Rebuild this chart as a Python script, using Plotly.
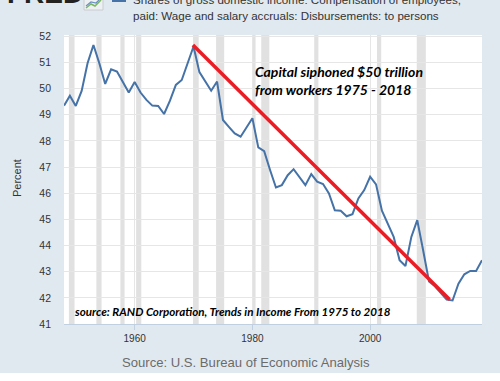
import plotly.graph_objects as go

# ---- data ----
years = list(range(1948, 2020))
wage_share = [49.35, 49.73, 49.34, 49.91, 50.97, 51.67, 50.97, 50.18, 50.74, 50.65,
              50.25, 49.85, 50.25, 49.85, 49.57, 49.35, 49.34, 49.03, 49.54, 50.14,
              50.33, 50.97, 51.61, 50.63, 50.25, 49.92, 50.27, 48.80, 48.54, 48.29,
              48.16, 48.54, 48.87, 47.75, 47.61, 46.89, 46.22, 46.31, 46.69, 46.92,
              46.63, 46.31, 46.73, 46.44, 46.35, 45.99, 45.35, 45.33, 45.12, 45.20,
              45.80, 46.12, 46.63, 46.34, 45.33, 44.84, 44.33, 43.44, 43.22, 44.33,
              44.97, 43.82, 42.63, 42.44, 42.18, 41.93, 41.90, 42.54, 42.90, 43.03,
              43.03, 43.44]
trend_years = [1969.9, 2013.5]
trend_values = [51.67, 41.94]
recession_starts = [1948.83, 1953.5, 1957.58, 1960.25, 1969.92, 1973.83, 1980.0, 1981.5, 1990.5, 2001.17, 2007.92]
recession_ends = [1949.79, 1954.38, 1958.29, 1961.13, 1970.88, 1975.21, 1980.54, 1982.88, 1991.21, 2001.88, 2009.46]
x_tick_vals = [1960, 1980, 2000]
x_tick_text = ["1960", "1980", "2000"]
y_tick_vals = [41, 42, 43, 44, 45, 46, 47, 48, 49, 50, 51, 52]

# ---- layout geometry (pixels) ----
W, H = 500, 381
L, R, T, B = 64, 482, 35, 324

def px(xp):
    return (xp - L) / (R - L)

def py(yp):
    return (B - yp) / (B - T)

FONT = "Liberation Sans, Arial, sans-serif"

fig = go.Figure()

fig.add_trace(go.Scatter(x=years, y=wage_share, mode="lines",
                         line=dict(color="#4572a7", width=2), hoverinfo="skip",
                         showlegend=False))
fig.add_trace(go.Scatter(x=trend_years, y=trend_values, mode="lines",
                         line=dict(color="#ec1c24", width=3.5), hoverinfo="skip",
                         showlegend=False))

shapes = []
for s, e in zip(recession_starts, recession_ends):
    shapes.append(dict(type="rect", xref="x", yref="paper", x0=s, x1=e, y0=0, y1=1,
                       fillcolor="#e1e1e1", line=dict(width=0), layer="below"))
# legend marker
shapes.append(dict(type="line", xref="paper", yref="paper", x0=px(112), x1=px(126),
                   y0=py(1), y1=py(1), line=dict(color="#4572a7", width=2)))
# FRED icon
shapes.append(dict(type="rect", xref="paper", yref="paper", x0=px(84), x1=px(103),
                   y0=py(10), y1=py(-6), fillcolor="#eef1f3", line=dict(color="#c8ccd0", width=1)))
shapes.append(dict(type="path", xref="paper", yref="paper",
                   path=f"M {px(86)} {py(8)} L {px(91)} {py(4)} L {px(95)} {py(6)} L {px(101)} {py(0)}",
                   line=dict(color="#7bb661", width=1.5)))
shapes.append(dict(type="path", xref="paper", yref="paper",
                   path=f"M {px(86)} {py(6)} L {px(91)} {py(2)} L {px(96)} {py(3)} L {px(101)} {py(-2)}",
                   line=dict(color="#6a8fc0", width=1.2)))
# white strip at bottom
shapes.append(dict(type="rect", xref="paper", yref="paper", x0=px(0), x1=px(W),
                   y0=py(373), y1=py(H + 2), fillcolor="#ffffff", line=dict(width=0)))

annotations = [
    dict(text="<b>FRED</b>", xref="paper", yref="paper", x=px(5), y=py(11),
         xanchor="left", yanchor="bottom", showarrow=False,
         font=dict(family=FONT, size=28, color="#222222")),
    dict(text="Shares of gross domestic income: Compensation of employees,", xref="paper", yref="paper",
         x=px(131), y=py(0), xanchor="left", yanchor="middle", showarrow=False,
         font=dict(family=FONT, size=11.6, color="#333333")),
    dict(text="paid: Wage and salary accruals: Disbursements: to persons", xref="paper", yref="paper",
         x=px(131), y=py(15), xanchor="left", yanchor="middle", showarrow=False,
         font=dict(family=FONT, size=11.6, color="#333333")),
    dict(text="<b><i>Capital siphoned $50 trillion</i></b>", xref="paper", yref="paper",
         x=px(253), y=py(71.5), xanchor="left", yanchor="middle", showarrow=False,
         font=dict(family="Lato, sans-serif", size=14, color="#000000")),
    dict(text="<b><i>from workers 1975 - 2018</i></b>", xref="paper", yref="paper",
         x=px(253), y=py(89), xanchor="left", yanchor="middle", showarrow=False,
         font=dict(family="Lato, sans-serif", size=14, color="#000000")),
    dict(text="<b><i>source: RAND Corporation, Trends in Income From 1975 to 2018</i></b>",
         xref="paper", yref="paper", x=px(72), y=py(311.5), xanchor="left", yanchor="middle",
         showarrow=False, font=dict(family="Lato, sans-serif", size=11.6, color="#000000")),
    dict(text="Source: U.S. Bureau of Economic Analysis", xref="paper", yref="paper",
         x=px(246), y=py(362), xanchor="center", yanchor="middle", showarrow=False,
         font=dict(family=FONT, size=13.1, color="#6b6b6b")),
    dict(text="Percent", xref="paper", yref="paper", x=px(17.5), y=py(178.5),
         xanchor="center", yanchor="middle", textangle=-90, showarrow=False,
         font=dict(family=FONT, size=11, color="#333333")),
]

fig.update_layout(
    width=W, height=H,
    margin=dict(l=L, r=W - R, t=T, b=H - B, pad=0),
    paper_bgcolor="#e1e9f0", plot_bgcolor="#ffffff",
    shapes=shapes, annotations=annotations, showlegend=False,
    xaxis=dict(range=[1948, 2019], tickvals=x_tick_vals, ticktext=x_tick_text,
               showgrid=True, gridcolor="#e6e6e6", gridwidth=1, zeroline=False,
               showline=True, linecolor="#c0d0e0", linewidth=1,
               ticks="outside", ticklen=5, tickcolor="#c0d0e0",
               tickfont=dict(family=FONT, size=10, color="#333333")),
    yaxis=dict(range=[41, 52.05], tickvals=y_tick_vals,
               showgrid=True, gridcolor="#e6e6e6", gridwidth=1, zeroline=False,
               showline=False, ticks="", ticklabelstandoff=12,
               tickfont=dict(family=FONT, size=10.5, color="#333333")),
)

fig.write_html("out.html", config={"displayModeBar": False},
               post_script="document.body.style.margin='0';document.body.style.overflow='hidden';")
